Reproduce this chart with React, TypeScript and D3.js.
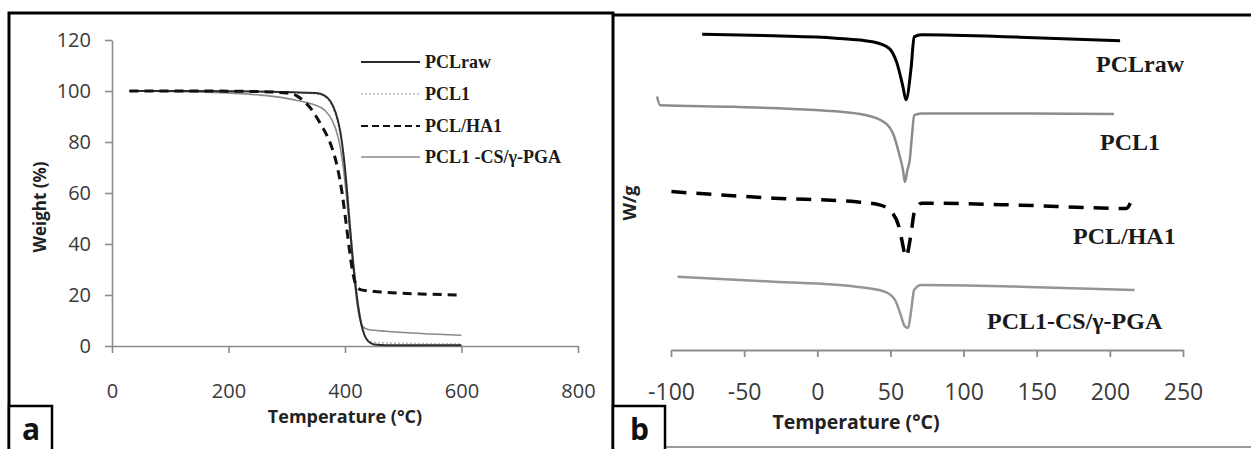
import React, { useEffect, useRef } from "react";
import * as d3 from "d3";

// panel a (TGA): [temperature (°C), weight (%)]
const tgaPclRaw = [[30,100],[100,100],[200,99.9],[300,99.6],[350,99.2],[365,98.2],[375,96],[384,91.5],[392,84],[398,74],[403,62],[408,48],[413,35],[418,24],[423,15],[428,8.5],[433,4.5],[440,1.8],[450,0.6],[470,0.3],[600,0.3]];
const tgaPcl1 = [[30,100],[200,99.8],[300,99.4],[350,98.9],[366,97.6],[377,94.5],[387,88],[395,79],[401,68],[406,56],[411,42],[416,30],[421,19],[427,10],[433,5],[441,2.2],[455,1.3],[520,1],[600,0.8]];
const tgaPclHa1 = [[30,100],[150,100],[250,99.8],[300,99.2],[318,98],[332,95.5],[345,92],[357,87.5],[368,83],[378,77.5],[387,70],[395,60],[402,48],[408,37],[414,28],[420,23.5],[428,22],[460,21.2],[530,20.4],[600,20]];
const tgaPcl1Cs = [[30,100],[150,99.6],[250,98.5],[290,97.5],[320,96.2],[345,94.8],[365,92.5],[378,88.5],[388,82],[396,72],[402,60],[408,46],[414,31],[420,18],[425,11],[431,7.5],[440,6.5],[470,5.8],[530,4.9],[600,4.2]];

// panel b (DSC): [temperature (°C), heat flow W/g, curves stacked with an offset]
const dscPclRaw = [[-78.7,9.57],[-29.7,9.52],[12.4,9.45],[37.6,9.34],[48.8,9.15],[54.4,8.7],[58.6,7.97],[60.6,7.58],[64.2,8.58],[66.2,9.49],[71.2,9.55],[138.4,9.48],[207,9.37]];
const dscPcl1 = [[-109.5,7.68],[-107.5,7.42],[-57.6,7.37],[-1.6,7.27],[26.4,7.17],[43.2,6.97],[51.6,6.58],[55.8,5.97],[58.6,5.45],[59.9,5.09],[61.6,5.45],[63.2,5.76],[64.9,6.58],[66.2,7.12],[71.2,7.17],[138.4,7.17],[202.8,7.15]];
const dscPclHa1 = [[-99.7,4.8],[-29.7,4.6],[26.4,4.49],[43.2,4.39],[51.6,4.14],[55.8,3.74],[57.8,3.33],[60.6,2.83],[64.2,3.55],[66.2,4.15],[71.2,4.45],[138.4,4.39],[211.3,4.29],[214,4.45]];
const dscPcl1Cs = [[-95.5,2.22],[-29.7,2.07],[26.4,1.92],[46,1.77],[53.1,1.52],[56.7,1.11],[59.9,0.71],[62.1,0.67],[64.2,1.21],[66.2,1.82],[71.2,1.97],[138.4,1.92],[216.9,1.82]];

const tgaNames = ["PCLraw", "PCL1", "PCL/HA1", "PCL1 -CS/\u03b3-PGA"];
const dscNames = ["PCLraw", "PCL1", "PCL/HA1", "PCL1-CS/\u03b3-PGA"];
const tgaXTicks = [0, 200, 400, 600, 800];
const tgaYTicks = [0, 20, 40, 60, 80, 100, 120];
const dscXTicks = [-100, -50, 0, 50, 100, 150, 200, 250];

const W = 1251, H = 449;
const sans = "'Open Sans', 'DejaVu Sans', sans-serif";
const serif = "'Liberation Serif', 'Times New Roman', serif";

// line looks, same order as the names
const tgaStyle = [
  { color: "#2b2b2b", width: 2, dash: null },
  { color: "#b8b8b8", width: 1.6, dash: "2 2" },
  { color: "#111", width: 3, dash: "9 6" },
  { color: "#8a8a8a", width: 1.6, dash: null },
];
const dscStyle = [
  { color: "#000", width: 3, dash: null },
  { color: "#8c8c8c", width: 2.5, dash: null },
  { color: "#000", width: 3.5, dash: "15 10" },
  { color: "#959595", width: 2.5, dash: null },
];

export default function App() {
  const ref = useRef(null);

  useEffect(() => {
    const svg = d3.select(ref.current);
    svg.selectAll("*").remove();
    svg.append("rect").attr("width", W).attr("height", H).attr("fill", "#fff");

    // ---------- panel a ----------
    const xa = d3.scaleLinear().domain([0, 800]).range([112, 578]);
    const ya = d3.scaleLinear().domain([0, 120]).range([346, 40]);

    const yAxis = svg.append("g").attr("transform", "translate(112,0)")
      .call(d3.axisLeft(ya).tickValues(tgaYTicks).tickSize(7).tickSizeOuter(0).tickPadding(14).tickFormat(d => String(d)));
    const xAxis = svg.append("g").attr("transform", "translate(0,346)")
      .call(d3.axisBottom(xa).tickValues(tgaXTicks).tickSize(7).tickSizeOuter(0).tickPadding(31).tickFormat(d => String(d)));
    [yAxis, xAxis].forEach(g => {
      g.selectAll("path, line").attr("stroke", "#8c8c8c").attr("stroke-width", 1.6);
      g.selectAll("text").attr("font-family", sans).attr("font-size", 20).attr("fill", "#3a3a3a");
    });

    const lineA = d3.line().x(d => xa(d[0])).y(d => ya(d[1])).curve(d3.curveMonotoneX);
    const tgaSeries = [tgaPclRaw, tgaPcl1, tgaPclHa1, tgaPcl1Cs];
    // gray ones first so the dark ones sit on top
    [3, 1, 0, 2].forEach(i => {
      const s = tgaStyle[i];
      svg.append("path").attr("d", lineA(tgaSeries[i])).attr("fill", "none")
        .attr("stroke", s.color).attr("stroke-width", s.width)
        .attr("stroke-dasharray", s.dash);
    });

    // legend
    const legY = [62, 94, 126, 157];
    tgaNames.forEach((n, i) => {
      const s = tgaStyle[i];
      svg.append("line").attr("x1", 361).attr("x2", 420).attr("y1", legY[i]).attr("y2", legY[i])
        .attr("stroke", s.color).attr("stroke-width", i == 2 ? 2.2 : s.width)
        .attr("stroke-dasharray", i == 2 ? "7 4" : s.dash);
      svg.append("text").attr("x", 425).attr("y", legY[i] + 6).text(n)
        .attr("font-family", serif).attr("font-weight", "bold").attr("font-size", 18).attr("fill", "#1a1a1a");
    });

    svg.append("text").attr("x", 345).attr("y", 423).attr("text-anchor", "middle")
      .attr("font-family", sans).attr("font-weight", "bold").attr("font-size", 18).attr("fill", "#222")
      .text("Temperature (\u00b0C)");
    svg.append("text").attr("transform", "translate(46,207) rotate(-90)").attr("text-anchor", "middle")
      .attr("font-family", sans).attr("font-weight", "bold").attr("font-size", 17).attr("fill", "#222")
      .text("Weight (%)");

    // ---------- panel b ----------
    const xb = d3.scaleLinear().domain([-100, 250]).range([671, 1183]);
    const yb = d3.scaleLinear().domain([0, 10]).range([350, 20]);

    const xbAxis = svg.append("g").attr("transform", "translate(0,350)")
      .call(d3.axisBottom(xb).tickValues(dscXTicks).tickSize(7).tickSizeOuter(0).tickPadding(27).tickFormat(d => String(d)));
    xbAxis.selectAll("path, line").attr("stroke", "#8c8c8c").attr("stroke-width", 1.8);
    xbAxis.selectAll("text").attr("font-family", sans).attr("font-size", 23).attr("fill", "#3a3a3a");

    const lineB = d3.line().x(d => xb(d[0])).y(d => yb(d[1])).curve(d3.curveMonotoneX);
    const dscSeries = [dscPclRaw, dscPcl1, dscPclHa1, dscPcl1Cs];
    dscSeries.forEach((data, i) => {
      const s = dscStyle[i];
      svg.append("path").attr("d", lineB(data)).attr("fill", "none")
        .attr("stroke", s.color).attr("stroke-width", s.width)
        .attr("stroke-dasharray", s.dash);
    });

    const labelPos = [[1096, 72], [1100, 150], [1073, 244], [987, 329]];
    dscNames.forEach((n, i) => {
      svg.append("text").attr("x", labelPos[i][0]).attr("y", labelPos[i][1]).text(n)
        .attr("font-family", serif).attr("font-weight", "bold").attr("font-size", 24).attr("fill", "#1a1a1a");
    });

    svg.append("text").attr("x", 856).attr("y", 429).attr("text-anchor", "middle")
      .attr("font-family", sans).attr("font-weight", "bold").attr("font-size", 19.5).attr("fill", "#222")
      .text("Temperature (\u00b0C)");
    svg.append("text").attr("transform", "translate(636,203) rotate(-90)").attr("text-anchor", "middle")
      .attr("font-family", sans).attr("font-weight", "bold").attr("font-size", 18).attr("fill", "#222")
      .text("W/g");

    // ---------- frames ----------
    svg.append("path").attr("d", "M9,449V13H613V449").attr("fill", "none").attr("stroke", "#000").attr("stroke-width", 3);
    svg.append("line").attr("x1", 613).attr("x2", W).attr("y1", 15).attr("y2", 15).attr("stroke", "#000").attr("stroke-width", 3);
    svg.append("line").attr("x1", 613).attr("x2", W).attr("y1", 447).attr("y2", 447).attr("stroke", "#9a9a9a").attr("stroke-width", 2);

    const boxes = [{ x: 9, w: 43, t: "a" }, { x: 613, w: 52, t: "b" }];
    boxes.forEach(b => {
      svg.append("rect").attr("x", b.x).attr("y", 406).attr("width", b.w).attr("height", 46)
        .attr("fill", "#fff").attr("stroke", "#000").attr("stroke-width", 2.5);
      svg.append("text").attr("x", b.x + b.w / 2 + 0.5).attr("y", 440).attr("text-anchor", "middle")
        .attr("font-family", sans).attr("font-weight", "bold").attr("font-size", 30).attr("fill", "#111")
        .text(b.t);
    });
  }, []);

  return <svg ref={ref} width={W} height={H} style={{ position: "absolute", left: 0, top: 0 }} />;
}
